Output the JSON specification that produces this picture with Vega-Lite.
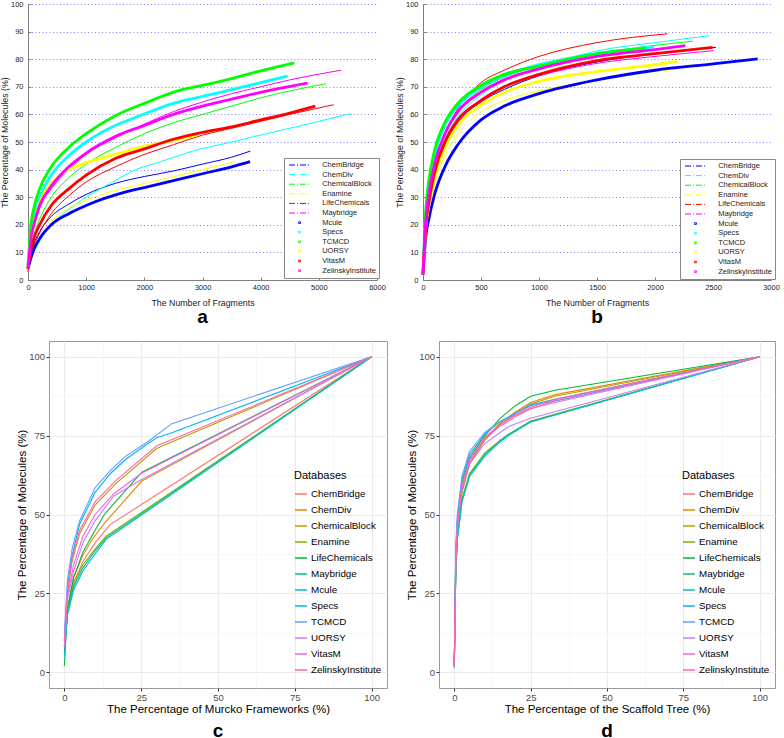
{
"$schema": "https://vega.github.io/schema/vega-lite/v6.json",
"padding": 0,
"background": "white",
"config": {"font": "Liberation Sans", "view": {"stroke": null}},
"datasets": {
"a": [
{"db":"ChemBridge","x":0,"y":4},{"db":"ChemBridge","x":50,"y":9},{"db":"ChemBridge","x":100,"y":13},{"db":"ChemBridge","x":200,"y":17.5},{"db":"ChemBridge","x":400,"y":23},{"db":"ChemBridge","x":700,"y":27.5},{"db":"ChemBridge","x":1000,"y":31},{"db":"ChemBridge","x":1500,"y":35},{"db":"ChemBridge","x":2000,"y":37.5},{"db":"ChemBridge","x":2500,"y":39.5},{"db":"ChemBridge","x":3000,"y":42},{"db":"ChemBridge","x":3500,"y":44.5},{"db":"ChemBridge","x":3822,"y":46.7},
{"db":"ChemDiv","x":0,"y":3},{"db":"ChemDiv","x":50,"y":7},{"db":"ChemDiv","x":100,"y":10},{"db":"ChemDiv","x":200,"y":14},{"db":"ChemDiv","x":400,"y":20},{"db":"ChemDiv","x":700,"y":25.5},{"db":"ChemDiv","x":1000,"y":30},{"db":"ChemDiv","x":1500,"y":36},{"db":"ChemDiv","x":1800,"y":39.5},{"db":"ChemDiv","x":2300,"y":43},{"db":"ChemDiv","x":2800,"y":46.5},{"db":"ChemDiv","x":3500,"y":50},{"db":"ChemDiv","x":4000,"y":52.5},{"db":"ChemDiv","x":4500,"y":55},{"db":"ChemDiv","x":5000,"y":57.5},{"db":"ChemDiv","x":5553,"y":60.3},
{"db":"ChemicalBlock","x":0,"y":3},{"db":"ChemicalBlock","x":50,"y":11},{"db":"ChemicalBlock","x":100,"y":16},{"db":"ChemicalBlock","x":200,"y":22},{"db":"ChemicalBlock","x":400,"y":30},{"db":"ChemicalBlock","x":700,"y":37},{"db":"ChemicalBlock","x":1000,"y":42},{"db":"ChemicalBlock","x":1500,"y":48},{"db":"ChemicalBlock","x":2000,"y":53},{"db":"ChemicalBlock","x":2500,"y":57},{"db":"ChemicalBlock","x":3000,"y":60},{"db":"ChemicalBlock","x":3500,"y":63},{"db":"ChemicalBlock","x":4000,"y":66},{"db":"ChemicalBlock","x":4500,"y":68.5},{"db":"ChemicalBlock","x":5123,"y":71.1},
{"db":"Enamine","x":0,"y":3},{"db":"Enamine","x":50,"y":8},{"db":"Enamine","x":100,"y":11},{"db":"Enamine","x":200,"y":15},{"db":"Enamine","x":400,"y":21},{"db":"Enamine","x":700,"y":26},{"db":"Enamine","x":1000,"y":29},{"db":"Enamine","x":1600,"y":33},{"db":"Enamine","x":2000,"y":35},{"db":"Enamine","x":2500,"y":37.5},{"db":"Enamine","x":3000,"y":40},{"db":"Enamine","x":3547,"y":42.9},
{"db":"LifeChemicals","x":0,"y":3},{"db":"LifeChemicals","x":50,"y":8},{"db":"LifeChemicals","x":100,"y":12},{"db":"LifeChemicals","x":200,"y":17},{"db":"LifeChemicals","x":400,"y":24},{"db":"LifeChemicals","x":700,"y":30.5},{"db":"LifeChemicals","x":1000,"y":35.5},{"db":"LifeChemicals","x":1500,"y":41},{"db":"LifeChemicals","x":2000,"y":45.5},{"db":"LifeChemicals","x":2500,"y":49},{"db":"LifeChemicals","x":3000,"y":52.5},{"db":"LifeChemicals","x":3500,"y":55},{"db":"LifeChemicals","x":4000,"y":57.5},{"db":"LifeChemicals","x":4500,"y":60},{"db":"LifeChemicals","x":5255,"y":63.5},
{"db":"Maybridge","x":0,"y":4},{"db":"Maybridge","x":50,"y":14},{"db":"Maybridge","x":100,"y":19},{"db":"Maybridge","x":200,"y":26},{"db":"Maybridge","x":400,"y":33},{"db":"Maybridge","x":700,"y":40},{"db":"Maybridge","x":1000,"y":45.5},{"db":"Maybridge","x":1500,"y":51.5},{"db":"Maybridge","x":2000,"y":56.5},{"db":"Maybridge","x":2500,"y":61},{"db":"Maybridge","x":3000,"y":64.5},{"db":"Maybridge","x":3500,"y":67.5},{"db":"Maybridge","x":4000,"y":70},{"db":"Maybridge","x":4500,"y":72.5},{"db":"Maybridge","x":5381,"y":76},
{"db":"Mcule","x":0,"y":4},{"db":"Mcule","x":50,"y":8},{"db":"Mcule","x":100,"y":11},{"db":"Mcule","x":200,"y":15},{"db":"Mcule","x":400,"y":20},{"db":"Mcule","x":700,"y":24},{"db":"Mcule","x":1000,"y":27},{"db":"Mcule","x":1700,"y":32},{"db":"Mcule","x":2000,"y":33.5},{"db":"Mcule","x":2500,"y":36},{"db":"Mcule","x":3000,"y":38.5},{"db":"Mcule","x":3500,"y":41},{"db":"Mcule","x":3817,"y":42.9},
{"db":"Specs","x":0,"y":4},{"db":"Specs","x":50,"y":18},{"db":"Specs","x":100,"y":23},{"db":"Specs","x":200,"y":30},{"db":"Specs","x":400,"y":38},{"db":"Specs","x":700,"y":45},{"db":"Specs","x":1000,"y":50},{"db":"Specs","x":1500,"y":56},{"db":"Specs","x":1800,"y":58.5},{"db":"Specs","x":2500,"y":64},{"db":"Specs","x":3000,"y":66.5},{"db":"Specs","x":3500,"y":69},{"db":"Specs","x":4000,"y":71.5},{"db":"Specs","x":4464,"y":73.9},
{"db":"TCMCD","x":0,"y":5},{"db":"TCMCD","x":50,"y":20},{"db":"TCMCD","x":100,"y":26},{"db":"TCMCD","x":200,"y":33},{"db":"TCMCD","x":400,"y":41},{"db":"TCMCD","x":700,"y":48},{"db":"TCMCD","x":1000,"y":53},{"db":"TCMCD","x":1500,"y":59.5},{"db":"TCMCD","x":2000,"y":64},{"db":"TCMCD","x":2600,"y":68.7},{"db":"TCMCD","x":3000,"y":70.5},{"db":"TCMCD","x":3500,"y":73},{"db":"TCMCD","x":4000,"y":75.8},{"db":"TCMCD","x":4579,"y":78.7},
{"db":"UORSY","x":0,"y":4},{"db":"UORSY","x":50,"y":15},{"db":"UORSY","x":100,"y":20},{"db":"UORSY","x":200,"y":28},{"db":"UORSY","x":400,"y":35},{"db":"UORSY","x":500,"y":37},{"db":"UORSY","x":700,"y":40},{"db":"UORSY","x":1000,"y":42.5},{"db":"UORSY","x":1500,"y":45.5},{"db":"UORSY","x":2000,"y":48.5},{"db":"UORSY","x":2500,"y":50.5},{"db":"UORSY","x":2900,"y":52.5},
{"db":"VitasM","x":0,"y":4},{"db":"VitasM","x":50,"y":11},{"db":"VitasM","x":100,"y":15},{"db":"VitasM","x":200,"y":20},{"db":"VitasM","x":400,"y":27},{"db":"VitasM","x":700,"y":33},{"db":"VitasM","x":1000,"y":38},{"db":"VitasM","x":1500,"y":44},{"db":"VitasM","x":2000,"y":47.5},{"db":"VitasM","x":2500,"y":51},{"db":"VitasM","x":3000,"y":53.5},{"db":"VitasM","x":3500,"y":55.5},{"db":"VitasM","x":4000,"y":58},{"db":"VitasM","x":4500,"y":60.5},{"db":"VitasM","x":4940,"y":63},
{"db":"ZelinskyInstitute","x":0,"y":4},{"db":"ZelinskyInstitute","x":50,"y":15},{"db":"ZelinskyInstitute","x":100,"y":20},{"db":"ZelinskyInstitute","x":200,"y":27},{"db":"ZelinskyInstitute","x":400,"y":34},{"db":"ZelinskyInstitute","x":700,"y":41},{"db":"ZelinskyInstitute","x":1000,"y":46},{"db":"ZelinskyInstitute","x":1500,"y":52},{"db":"ZelinskyInstitute","x":2000,"y":56},{"db":"ZelinskyInstitute","x":2500,"y":60},{"db":"ZelinskyInstitute","x":3000,"y":63},{"db":"ZelinskyInstitute","x":3500,"y":65.5},{"db":"ZelinskyInstitute","x":4000,"y":68},{"db":"ZelinskyInstitute","x":4808,"y":71.3}
],
"b": [
{"db":"ChemBridge","x":0,"y":2},{"db":"ChemBridge","x":25,"y":20},{"db":"ChemBridge","x":50,"y":28},{"db":"ChemBridge","x":100,"y":39},{"db":"ChemBridge","x":200,"y":50},{"db":"ChemBridge","x":300,"y":57},{"db":"ChemBridge","x":500,"y":64.5},{"db":"ChemBridge","x":700,"y":69},{"db":"ChemBridge","x":1000,"y":74},{"db":"ChemBridge","x":1500,"y":79},{"db":"ChemBridge","x":2000,"y":82},{"db":"ChemBridge","x":2526,"y":84.3},
{"db":"ChemDiv","x":0,"y":2},{"db":"ChemDiv","x":25,"y":20},{"db":"ChemDiv","x":50,"y":29},{"db":"ChemDiv","x":100,"y":40},{"db":"ChemDiv","x":200,"y":52},{"db":"ChemDiv","x":300,"y":59},{"db":"ChemDiv","x":500,"y":67},{"db":"ChemDiv","x":700,"y":72},{"db":"ChemDiv","x":1000,"y":77},{"db":"ChemDiv","x":1500,"y":83},{"db":"ChemDiv","x":2000,"y":86},{"db":"ChemDiv","x":2468,"y":88.5},
{"db":"ChemicalBlock","x":0,"y":2},{"db":"ChemicalBlock","x":25,"y":22},{"db":"ChemicalBlock","x":50,"y":31},{"db":"ChemicalBlock","x":100,"y":42},{"db":"ChemicalBlock","x":200,"y":54},{"db":"ChemicalBlock","x":300,"y":61},{"db":"ChemicalBlock","x":500,"y":69},{"db":"ChemicalBlock","x":700,"y":73.5},{"db":"ChemicalBlock","x":1000,"y":77.5},{"db":"ChemicalBlock","x":1500,"y":82},{"db":"ChemicalBlock","x":2000,"y":85},{"db":"ChemicalBlock","x":2325,"y":86.5},
{"db":"Enamine","x":0,"y":2},{"db":"Enamine","x":25,"y":18},{"db":"Enamine","x":50,"y":25},{"db":"Enamine","x":100,"y":35},{"db":"Enamine","x":200,"y":46},{"db":"Enamine","x":300,"y":53},{"db":"Enamine","x":500,"y":61},{"db":"Enamine","x":700,"y":65},{"db":"Enamine","x":1000,"y":68.5},{"db":"Enamine","x":1300,"y":71},{"db":"Enamine","x":1600,"y":73},{"db":"Enamine","x":2000,"y":75.5},{"db":"Enamine","x":2200,"y":76.5},
{"db":"LifeChemicals","x":0,"y":2},{"db":"LifeChemicals","x":25,"y":20},{"db":"LifeChemicals","x":50,"y":29},{"db":"LifeChemicals","x":100,"y":41},{"db":"LifeChemicals","x":200,"y":54},{"db":"LifeChemicals","x":300,"y":62},{"db":"LifeChemicals","x":500,"y":71.5},{"db":"LifeChemicals","x":700,"y":76},{"db":"LifeChemicals","x":1000,"y":81},{"db":"LifeChemicals","x":1500,"y":86},{"db":"LifeChemicals","x":2109,"y":89.2},
{"db":"Maybridge","x":0,"y":2},{"db":"Maybridge","x":25,"y":19},{"db":"Maybridge","x":50,"y":27},{"db":"Maybridge","x":100,"y":38},{"db":"Maybridge","x":200,"y":50},{"db":"Maybridge","x":300,"y":57},{"db":"Maybridge","x":500,"y":65.5},{"db":"Maybridge","x":700,"y":70},{"db":"Maybridge","x":1000,"y":74},{"db":"Maybridge","x":1500,"y":78.5},{"db":"Maybridge","x":2000,"y":81},{"db":"Maybridge","x":2506,"y":83.1},
{"db":"Mcule","x":0,"y":2},{"db":"Mcule","x":25,"y":16},{"db":"Mcule","x":50,"y":22},{"db":"Mcule","x":100,"y":31},{"db":"Mcule","x":200,"y":42},{"db":"Mcule","x":300,"y":49},{"db":"Mcule","x":500,"y":58},{"db":"Mcule","x":700,"y":63},{"db":"Mcule","x":1000,"y":67.5},{"db":"Mcule","x":1500,"y":72.5},{"db":"Mcule","x":2000,"y":76},{"db":"Mcule","x":2500,"y":78.3},{"db":"Mcule","x":2885,"y":80.1},
{"db":"Specs","x":0,"y":2},{"db":"Specs","x":25,"y":24},{"db":"Specs","x":50,"y":33},{"db":"Specs","x":100,"y":45},{"db":"Specs","x":200,"y":57},{"db":"Specs","x":300,"y":63},{"db":"Specs","x":500,"y":70},{"db":"Specs","x":700,"y":74},{"db":"Specs","x":1000,"y":78},{"db":"Specs","x":1500,"y":82},{"db":"Specs","x":1990,"y":84.5},
{"db":"TCMCD","x":0,"y":2},{"db":"TCMCD","x":25,"y":26},{"db":"TCMCD","x":50,"y":36},{"db":"TCMCD","x":100,"y":47},{"db":"TCMCD","x":200,"y":58},{"db":"TCMCD","x":300,"y":64},{"db":"TCMCD","x":500,"y":70.5},{"db":"TCMCD","x":700,"y":74.5},{"db":"TCMCD","x":1000,"y":77.5},{"db":"TCMCD","x":1500,"y":82},{"db":"TCMCD","x":1922,"y":84},
{"db":"UORSY","x":0,"y":2},{"db":"UORSY","x":25,"y":19},{"db":"UORSY","x":50,"y":27},{"db":"UORSY","x":100,"y":37},{"db":"UORSY","x":200,"y":49},{"db":"UORSY","x":300,"y":56},{"db":"UORSY","x":500,"y":63.5},{"db":"UORSY","x":700,"y":68},{"db":"UORSY","x":1000,"y":72},{"db":"UORSY","x":1500,"y":75.5},{"db":"UORSY","x":2000,"y":78},{"db":"UORSY","x":2195,"y":79.2},
{"db":"VitasM","x":0,"y":2},{"db":"VitasM","x":25,"y":20},{"db":"VitasM","x":50,"y":28},{"db":"VitasM","x":100,"y":39},{"db":"VitasM","x":200,"y":51},{"db":"VitasM","x":300,"y":58},{"db":"VitasM","x":500,"y":65},{"db":"VitasM","x":700,"y":70},{"db":"VitasM","x":1000,"y":74.5},{"db":"VitasM","x":1500,"y":79.5},{"db":"VitasM","x":2000,"y":82},{"db":"VitasM","x":2497,"y":84.3},
{"db":"ZelinskyInstitute","x":0,"y":2},{"db":"ZelinskyInstitute","x":25,"y":22},{"db":"ZelinskyInstitute","x":50,"y":31},{"db":"ZelinskyInstitute","x":100,"y":42},{"db":"ZelinskyInstitute","x":200,"y":54},{"db":"ZelinskyInstitute","x":300,"y":61},{"db":"ZelinskyInstitute","x":500,"y":68},{"db":"ZelinskyInstitute","x":700,"y":72.5},{"db":"ZelinskyInstitute","x":1000,"y":76.5},{"db":"ZelinskyInstitute","x":1500,"y":81},{"db":"ZelinskyInstitute","x":2000,"y":83.5},{"db":"ZelinskyInstitute","x":2261,"y":84.9}
],
"c": [
{"db":"ChemBridge","x":0,"y":8},{"db":"ChemBridge","x":1,"y":20},{"db":"ChemBridge","x":3,"y":28.5},{"db":"ChemBridge","x":6,"y":35},{"db":"ChemBridge","x":10,"y":41},{"db":"ChemBridge","x":14.9,"y":46.8},{"db":"ChemBridge","x":100,"y":100},
{"db":"ChemDiv","x":0,"y":8},{"db":"ChemDiv","x":1,"y":20},{"db":"ChemDiv","x":3,"y":30},{"db":"ChemDiv","x":6,"y":37},{"db":"ChemDiv","x":9,"y":42},{"db":"ChemDiv","x":13.2,"y":47.4},{"db":"ChemDiv","x":25.2,"y":60.6},{"db":"ChemDiv","x":100,"y":100},
{"db":"ChemicalBlock","x":0,"y":10},{"db":"ChemicalBlock","x":1,"y":25},{"db":"ChemicalBlock","x":2.5,"y":35},{"db":"ChemicalBlock","x":5,"y":44},{"db":"ChemicalBlock","x":10,"y":53},{"db":"ChemicalBlock","x":17,"y":60},{"db":"ChemicalBlock","x":30,"y":70.9},{"db":"ChemicalBlock","x":100,"y":100},
{"db":"Enamine","x":0,"y":6},{"db":"Enamine","x":1,"y":19},{"db":"Enamine","x":3,"y":28},{"db":"Enamine","x":6,"y":34},{"db":"Enamine","x":10,"y":39},{"db":"Enamine","x":13.6,"y":43.1},{"db":"Enamine","x":100,"y":100},
{"db":"LifeChemicals","x":0,"y":2},{"db":"LifeChemicals","x":1,"y":20},{"db":"LifeChemicals","x":3,"y":30},{"db":"LifeChemicals","x":6,"y":38},{"db":"LifeChemicals","x":10,"y":45},{"db":"LifeChemicals","x":13,"y":50},{"db":"LifeChemicals","x":25.2,"y":63.4},{"db":"LifeChemicals","x":100,"y":100},
{"db":"Maybridge","x":0,"y":6},{"db":"Maybridge","x":1,"y":19},{"db":"Maybridge","x":3,"y":27},{"db":"Maybridge","x":6,"y":33},{"db":"Maybridge","x":10,"y":38.5},{"db":"Maybridge","x":13.6,"y":42.6},{"db":"Maybridge","x":100,"y":100},
{"db":"Mcule","x":0,"y":5},{"db":"Mcule","x":1,"y":18},{"db":"Mcule","x":3,"y":26},{"db":"Mcule","x":6,"y":32},{"db":"Mcule","x":10,"y":37.5},{"db":"Mcule","x":13.6,"y":42.1},{"db":"Mcule","x":100,"y":100},
{"db":"Specs","x":0,"y":10},{"db":"Specs","x":1,"y":27},{"db":"Specs","x":2.5,"y":37},{"db":"Specs","x":5,"y":47},{"db":"Specs","x":10,"y":57},{"db":"Specs","x":15,"y":63},{"db":"Specs","x":20,"y":67.5},{"db":"Specs","x":25,"y":71},{"db":"Specs","x":30,"y":74.3},{"db":"Specs","x":35,"y":75.9},{"db":"Specs","x":100,"y":100},
{"db":"TCMCD","x":0,"y":12},{"db":"TCMCD","x":1,"y":29},{"db":"TCMCD","x":2.5,"y":39},{"db":"TCMCD","x":5,"y":48},{"db":"TCMCD","x":10,"y":58.5},{"db":"TCMCD","x":15,"y":64},{"db":"TCMCD","x":20,"y":68.5},{"db":"TCMCD","x":27,"y":73},{"db":"TCMCD","x":35,"y":78.8},{"db":"TCMCD","x":100,"y":100},
{"db":"UORSY","x":0,"y":8},{"db":"UORSY","x":1,"y":23},{"db":"UORSY","x":3,"y":32},{"db":"UORSY","x":6,"y":41},{"db":"UORSY","x":10,"y":48},{"db":"UORSY","x":16,"y":55.8},{"db":"UORSY","x":25,"y":61},{"db":"UORSY","x":100,"y":100},
{"db":"VitasM","x":0,"y":9},{"db":"VitasM","x":1,"y":24},{"db":"VitasM","x":3,"y":34},{"db":"VitasM","x":6,"y":43},{"db":"VitasM","x":10,"y":50},{"db":"VitasM","x":16,"y":56.5},{"db":"VitasM","x":25,"y":63},{"db":"VitasM","x":100,"y":100},
{"db":"ZelinskyInstitute","x":0,"y":10},{"db":"ZelinskyInstitute","x":1,"y":26},{"db":"ZelinskyInstitute","x":2.5,"y":36},{"db":"ZelinskyInstitute","x":5,"y":45},{"db":"ZelinskyInstitute","x":10,"y":54},{"db":"ZelinskyInstitute","x":17,"y":61},{"db":"ZelinskyInstitute","x":30,"y":71.7},{"db":"ZelinskyInstitute","x":100,"y":100}
],
"d": [
{"db":"ChemBridge","x":0,"y":2},{"db":"ChemBridge","x":0.5,"y":35},{"db":"ChemBridge","x":1,"y":45},{"db":"ChemBridge","x":2.5,"y":58},{"db":"ChemBridge","x":5,"y":67},{"db":"ChemBridge","x":10,"y":74},{"db":"ChemBridge","x":15,"y":78.5},{"db":"ChemBridge","x":20,"y":81.5},{"db":"ChemBridge","x":25,"y":83.5},{"db":"ChemBridge","x":33,"y":86},{"db":"ChemBridge","x":100,"y":100},
{"db":"ChemDiv","x":0,"y":2},{"db":"ChemDiv","x":0.5,"y":33},{"db":"ChemDiv","x":1,"y":44},{"db":"ChemDiv","x":2.5,"y":57},{"db":"ChemDiv","x":5,"y":66},{"db":"ChemDiv","x":10,"y":74},{"db":"ChemDiv","x":15,"y":79},{"db":"ChemDiv","x":20,"y":82.5},{"db":"ChemDiv","x":25,"y":85.5},{"db":"ChemDiv","x":33,"y":88},{"db":"ChemDiv","x":100,"y":100},
{"db":"ChemicalBlock","x":0,"y":2},{"db":"ChemicalBlock","x":0.5,"y":34},{"db":"ChemicalBlock","x":1,"y":45},{"db":"ChemicalBlock","x":2.5,"y":57},{"db":"ChemicalBlock","x":5,"y":66},{"db":"ChemicalBlock","x":10,"y":73.5},{"db":"ChemicalBlock","x":15,"y":78.5},{"db":"ChemicalBlock","x":20,"y":82},{"db":"ChemicalBlock","x":25,"y":85},{"db":"ChemicalBlock","x":33,"y":87.5},{"db":"ChemicalBlock","x":100,"y":100},
{"db":"Enamine","x":0,"y":2},{"db":"Enamine","x":0.5,"y":33},{"db":"Enamine","x":1,"y":43},{"db":"Enamine","x":2.5,"y":55},{"db":"Enamine","x":5,"y":63},{"db":"Enamine","x":10,"y":69.5},{"db":"Enamine","x":15,"y":73.5},{"db":"Enamine","x":18,"y":75.5},{"db":"Enamine","x":25,"y":79.6},{"db":"Enamine","x":100,"y":100},
{"db":"LifeChemicals","x":0,"y":2},{"db":"LifeChemicals","x":0.5,"y":38},{"db":"LifeChemicals","x":1,"y":48},{"db":"LifeChemicals","x":2.5,"y":60},{"db":"LifeChemicals","x":5,"y":68},{"db":"LifeChemicals","x":10,"y":75},{"db":"LifeChemicals","x":15,"y":80.5},{"db":"LifeChemicals","x":20,"y":84.5},{"db":"LifeChemicals","x":25,"y":87.5},{"db":"LifeChemicals","x":33,"y":89.4},{"db":"LifeChemicals","x":100,"y":100},
{"db":"Maybridge","x":0,"y":1.5},{"db":"Maybridge","x":0.5,"y":32},{"db":"Maybridge","x":1,"y":42},{"db":"Maybridge","x":2.5,"y":54},{"db":"Maybridge","x":5,"y":62.5},{"db":"Maybridge","x":10,"y":69},{"db":"Maybridge","x":15,"y":73.5},{"db":"Maybridge","x":18,"y":75.5},{"db":"Maybridge","x":25,"y":79.4},{"db":"Maybridge","x":100,"y":100},
{"db":"Mcule","x":0,"y":1.5},{"db":"Mcule","x":0.5,"y":32},{"db":"Mcule","x":1,"y":42},{"db":"Mcule","x":2.5,"y":54},{"db":"Mcule","x":5,"y":62},{"db":"Mcule","x":10,"y":68.5},{"db":"Mcule","x":15,"y":73},{"db":"Mcule","x":18,"y":75.2},{"db":"Mcule","x":25,"y":79.3},{"db":"Mcule","x":100,"y":100},
{"db":"Specs","x":0,"y":2},{"db":"Specs","x":0.5,"y":38},{"db":"Specs","x":1,"y":48},{"db":"Specs","x":2.5,"y":61},{"db":"Specs","x":5,"y":69},{"db":"Specs","x":10,"y":75.5},{"db":"Specs","x":15,"y":79.5},{"db":"Specs","x":20,"y":82},{"db":"Specs","x":25,"y":84.8},{"db":"Specs","x":33,"y":86.5},{"db":"Specs","x":100,"y":100},
{"db":"TCMCD","x":0,"y":2},{"db":"TCMCD","x":0.5,"y":40},{"db":"TCMCD","x":1,"y":50},{"db":"TCMCD","x":2.5,"y":62},{"db":"TCMCD","x":5,"y":70},{"db":"TCMCD","x":10,"y":76},{"db":"TCMCD","x":15,"y":79.5},{"db":"TCMCD","x":20,"y":82},{"db":"TCMCD","x":25,"y":84.5},{"db":"TCMCD","x":33,"y":86},{"db":"TCMCD","x":100,"y":100},
{"db":"UORSY","x":0,"y":2},{"db":"UORSY","x":0.5,"y":36},{"db":"UORSY","x":1,"y":46},{"db":"UORSY","x":2.5,"y":58},{"db":"UORSY","x":5,"y":66},{"db":"UORSY","x":10,"y":72.5},{"db":"UORSY","x":15,"y":76},{"db":"UORSY","x":18,"y":78},{"db":"UORSY","x":25,"y":80.5},{"db":"UORSY","x":100,"y":100},
{"db":"VitasM","x":0,"y":2},{"db":"VitasM","x":0.5,"y":36},{"db":"VitasM","x":1,"y":46},{"db":"VitasM","x":2.5,"y":58},{"db":"VitasM","x":5,"y":67},{"db":"VitasM","x":10,"y":74},{"db":"VitasM","x":15,"y":78},{"db":"VitasM","x":20,"y":81},{"db":"VitasM","x":25,"y":83.5},{"db":"VitasM","x":33,"y":85.5},{"db":"VitasM","x":100,"y":100},
{"db":"ZelinskyInstitute","x":0,"y":2},{"db":"ZelinskyInstitute","x":0.5,"y":36},{"db":"ZelinskyInstitute","x":1,"y":46},{"db":"ZelinskyInstitute","x":2.5,"y":59},{"db":"ZelinskyInstitute","x":5,"y":67.5},{"db":"ZelinskyInstitute","x":10,"y":74.5},{"db":"ZelinskyInstitute","x":15,"y":78.5},{"db":"ZelinskyInstitute","x":20,"y":81.5},{"db":"ZelinskyInstitute","x":25,"y":84},{"db":"ZelinskyInstitute","x":33,"y":86.5},{"db":"ZelinskyInstitute","x":100,"y":100}
]
},
"resolve": {"scale": {"color": "independent"}, "legend": {"color": "independent"}},
"spacing": 12,
"vconcat": [
{
"hconcat": [
{
"width": 349, "height": 276,
"data": {"name": "a"},
"title": {"text": "a", "orient": "bottom", "fontSize": 19, "fontWeight": "bold", "color": "#000", "offset": 1},
"mark": {"type": "line", "interpolate": "monotone"},
"encoding": {
"x": {"field": "x", "type": "quantitative", "scale": {"domain": [0, 6000], "nice": false},
 "axis": {"title": "The Number of Fragments", "values": [0,1000,2000,3000,4000,5000,6000], "format": "d", "grid": false, "domainColor": "#808080", "tickColor": "#808080", "tickSize": -3, "labelPadding": 6, "labelFontSize": 7.5, "labelColor": "#222", "labelFlush": false, "titleFontSize": 8.8, "titleFontWeight": "normal", "titleColor": "#222", "titlePadding": 8}},
"y": {"field": "y", "type": "quantitative", "scale": {"domain": [0, 100], "nice": false},
 "axis": {"title": "The Percentage of Molecules (%)", "values": [0,10,20,30,40,50,60,70,80,90,100], "grid": true, "gridColor": "#8080ff", "gridDash": [1, 2.5], "gridOpacity": 1, "domainColor": "#808080", "tickColor": "#808080", "tickSize": -3, "labelPadding": 8, "labelFontSize": 7.5, "labelColor": "#222", "labelFlush": false, "titleFontSize": 8.8, "titleFontWeight": "normal", "titleColor": "#222", "titlePadding": 1}},
"color": {"field": "db", "type": "nominal",
 "scale": {"domain": ["ChemBridge","ChemDiv","ChemicalBlock","Enamine","LifeChemicals","Maybridge","Mcule","Specs","TCMCD","UORSY","VitasM","ZelinskyInstitute"], "range": ["#0000ff","#00ffff","#00ff00","#ffff00","#ff0000","#ff00ff","#0000ff","#00ffff","#00ff00","#ffff00","#ff0000","#ff00ff"]},
 "legend": {"orient": "none", "legendX": 256, "legendY": 154, "title": null, "labelFontSize": 7.5, "labelColor": "#222", "strokeColor": "#888", "fillColor": "white", "padding": 3, "rowPadding": 1.6, "symbolType": "stroke", "symbolSize": 49, "symbolStrokeWidth": 1, "symbolOffset": 8.5, "labelOffset": 18.7, "labelLimit": 200,
  "encode": {"symbols": {"update": {
   "shape": {"signal": "indexof(['Mcule','Specs','TCMCD','UORSY','VitasM','ZelinskyInstitute'], datum.value) >= 0 ? 'M-0.25,-0.25H0.25V0.25H-0.25Z' : 'M-3,0H3'"},
   "strokeDash": {"signal": "indexof(['Mcule','Specs','TCMCD','UORSY','VitasM','ZelinskyInstitute'], datum.value) >= 0 ? [1,0] : [6,2,1,2]"}
  }}}}},
"strokeWidth": {"condition": {"test": "indexof(['Mcule','Specs','TCMCD','UORSY','VitasM','ZelinskyInstitute'], datum.db) >= 0", "value": 2.8}, "value": 1}
}
},
{
"width": 348, "height": 276,
"data": {"name": "b"},
"title": {"text": "b", "orient": "bottom", "fontSize": 19, "fontWeight": "bold", "color": "#000", "offset": 1},
"mark": {"type": "line", "interpolate": "monotone"},
"encoding": {
"x": {"field": "x", "type": "quantitative", "scale": {"domain": [0, 3000], "nice": false},
 "axis": {"title": "The Number of Fragments", "values": [0,500,1000,1500,2000,2500,3000], "format": "d", "grid": false, "domainColor": "#808080", "tickColor": "#808080", "tickSize": -3, "labelPadding": 6, "labelFontSize": 7.5, "labelColor": "#222", "labelFlush": false, "titleFontSize": 8.8, "titleFontWeight": "normal", "titleColor": "#222", "titlePadding": 8}},
"y": {"field": "y", "type": "quantitative", "scale": {"domain": [0, 100], "nice": false},
 "axis": {"title": "The Percentage of Molecules (%)", "values": [0,10,20,30,40,50,60,70,80,90,100], "grid": true, "gridColor": "#8080ff", "gridDash": [1, 2.5], "gridOpacity": 1, "domainColor": "#808080", "tickColor": "#808080", "tickSize": -3, "labelPadding": 8, "labelFontSize": 7.5, "labelColor": "#222", "labelFlush": false, "titleFontSize": 8.8, "titleFontWeight": "normal", "titleColor": "#222", "titlePadding": 1}},
"color": {"field": "db", "type": "nominal",
 "scale": {"domain": ["ChemBridge","ChemDiv","ChemicalBlock","Enamine","LifeChemicals","Maybridge","Mcule","Specs","TCMCD","UORSY","VitasM","ZelinskyInstitute"], "range": ["#0000ff","#00ffff","#00ff00","#ffff00","#ff0000","#ff00ff","#0000ff","#00ffff","#00ff00","#ffff00","#ff0000","#ff00ff"]},
 "legend": {"orient": "none", "legendX": 257, "legendY": 155, "title": null, "labelFontSize": 7.5, "labelColor": "#222", "strokeColor": "#888", "fillColor": "white", "padding": 3, "rowPadding": 1.6, "symbolType": "stroke", "symbolSize": 49, "symbolStrokeWidth": 1, "symbolOffset": 8.5, "labelOffset": 18.7, "labelLimit": 200,
  "encode": {"symbols": {"update": {
   "shape": {"signal": "indexof(['Mcule','Specs','TCMCD','UORSY','VitasM','ZelinskyInstitute'], datum.value) >= 0 ? 'M-0.25,-0.25H0.25V0.25H-0.25Z' : 'M-3,0H3'"},
   "strokeDash": {"signal": "indexof(['Mcule','Specs','TCMCD','UORSY','VitasM','ZelinskyInstitute'], datum.value) >= 0 ? [1,0] : [6,2,1,2]"}
  }}}}},
"strokeWidth": {"condition": {"test": "indexof(['Mcule','Specs','TCMCD','UORSY','VitasM','ZelinskyInstitute'], datum.db) >= 0", "value": 2.8}, "value": 1}
}
}
],
"spacing": 9,
"resolve": {"scale": {"color": "independent"}, "legend": {"color": "independent"}}
},
{
"hconcat": [
{"width": 1, "height": 347, "data": {"values": []}, "mark": {"type": "point", "opacity": 0}},
{
"hconcat": [
{
"width": 338, "height": 347,
"view": {"stroke": "#9a9a9a", "strokeWidth": 1},
"data": {"name": "c"},
"title": {"text": "c", "orient": "bottom", "fontSize": 19, "fontWeight": "bold", "color": "#000", "offset": 6.5},
"mark": {"type": "line", "strokeWidth": 1.1},
"encoding": {
"x": {"field": "x", "type": "quantitative", "scale": {"domain": [-5, 105], "nice": false, "zero": false},
 "axis": {"title": "The Percentage of Murcko Frameworks (%)", "values": [0,12.5,25,37.5,50,62.5,75,87.5,100], "labelExpr": "datum.value % 25 === 0 ? datum.label : ''", "domain": false, "grid": true,
  "gridColor": {"condition": {"test": "datum.value % 25 !== 0", "value": "#f4f4f4"}, "value": "#ebebeb"},
  "gridWidth": {"condition": {"test": "datum.value % 25 !== 0", "value": 0.6}, "value": 1.1},
  "tickColor": {"condition": {"test": "datum.value % 25 !== 0", "value": "transparent"}, "value": "#333"},
  "tickSize": 3, "labelPadding": 1, "labelFontSize": 9.5, "labelColor": "#4d4d4d", "labelFlush": false, "titleFontSize": 11.5, "titleFontWeight": "normal", "titleColor": "#000", "titlePadding": 2}},
"y": {"field": "y", "type": "quantitative", "scale": {"domain": [-5, 105], "nice": false, "zero": false},
 "axis": {"title": "The Percentage of Molecules (%)", "values": [0,12.5,25,37.5,50,62.5,75,87.5,100], "labelExpr": "datum.value % 25 === 0 ? datum.label : ''", "domain": false, "grid": true,
  "gridColor": {"condition": {"test": "datum.value % 25 !== 0", "value": "#f4f4f4"}, "value": "#ebebeb"},
  "gridWidth": {"condition": {"test": "datum.value % 25 !== 0", "value": 0.6}, "value": 1.1},
  "tickColor": {"condition": {"test": "datum.value % 25 !== 0", "value": "transparent"}, "value": "#333"},
  "tickSize": 3, "labelPadding": 1.5, "labelFontSize": 9.5, "labelColor": "#4d4d4d", "labelFlush": false, "titleFontSize": 11.5, "titleFontWeight": "normal", "titleColor": "#000", "titlePadding": 1}},
"color": {"field": "db", "type": "nominal",
 "scale": {"domain": ["ChemBridge","ChemDiv","ChemicalBlock","Enamine","LifeChemicals","Maybridge","Mcule","Specs","TCMCD","UORSY","VitasM","ZelinskyInstitute"], "range": ["#F8766D","#DE8C00","#B79F00","#7CAE00","#00BA38","#00C08B","#00BFC4","#00B4F0","#619CFF","#C77CFF","#F564E3","#FF64B0"]},
 "legend": {"orient": "none", "legendX": 245, "legendY": 129, "title": "Databases", "titleFontSize": 11, "titleFontWeight": "normal", "titleColor": "#000", "titlePadding": 6, "labelFontSize": 9.8, "labelColor": "#000", "padding": 0, "rowPadding": 4, "symbolType": "stroke", "symbolSize": 144, "symbolStrokeWidth": 1.5, "labelOffset": 3, "labelLimit": 200}}
}
},
{
"width": 336, "height": 347,
"view": {"stroke": "#9a9a9a", "strokeWidth": 1},
"data": {"name": "d"},
"title": {"text": "d", "orient": "bottom", "fontSize": 19, "fontWeight": "bold", "color": "#000", "offset": 6.5},
"mark": {"type": "line", "strokeWidth": 1.1},
"encoding": {
"x": {"field": "x", "type": "quantitative", "scale": {"domain": [-5, 105], "nice": false, "zero": false},
 "axis": {"title": "The Percentage of the Scaffold Tree (%)", "values": [0,12.5,25,37.5,50,62.5,75,87.5,100], "labelExpr": "datum.value % 25 === 0 ? datum.label : ''", "domain": false, "grid": true,
  "gridColor": {"condition": {"test": "datum.value % 25 !== 0", "value": "#f4f4f4"}, "value": "#ebebeb"},
  "gridWidth": {"condition": {"test": "datum.value % 25 !== 0", "value": 0.6}, "value": 1.1},
  "tickColor": {"condition": {"test": "datum.value % 25 !== 0", "value": "transparent"}, "value": "#333"},
  "tickSize": 3, "labelPadding": 1, "labelFontSize": 9.5, "labelColor": "#4d4d4d", "labelFlush": false, "titleFontSize": 11.5, "titleFontWeight": "normal", "titleColor": "#000", "titlePadding": 2}},
"y": {"field": "y", "type": "quantitative", "scale": {"domain": [-5, 105], "nice": false, "zero": false},
 "axis": {"title": "The Percentage of Molecules (%)", "values": [0,12.5,25,37.5,50,62.5,75,87.5,100], "labelExpr": "datum.value % 25 === 0 ? datum.label : ''", "domain": false, "grid": true,
  "gridColor": {"condition": {"test": "datum.value % 25 !== 0", "value": "#f4f4f4"}, "value": "#ebebeb"},
  "gridWidth": {"condition": {"test": "datum.value % 25 !== 0", "value": 0.6}, "value": 1.1},
  "tickColor": {"condition": {"test": "datum.value % 25 !== 0", "value": "transparent"}, "value": "#333"},
  "tickSize": 3, "labelPadding": 1.5, "labelFontSize": 9.5, "labelColor": "#4d4d4d", "labelFlush": false, "titleFontSize": 11.5, "titleFontWeight": "normal", "titleColor": "#000", "titlePadding": 1}},
"color": {"field": "db", "type": "nominal",
 "scale": {"domain": ["ChemBridge","ChemDiv","ChemicalBlock","Enamine","LifeChemicals","Maybridge","Mcule","Specs","TCMCD","UORSY","VitasM","ZelinskyInstitute"], "range": ["#F8766D","#DE8C00","#B79F00","#7CAE00","#00BA38","#00C08B","#00BFC4","#00B4F0","#619CFF","#C77CFF","#F564E3","#FF64B0"]},
 "legend": {"orient": "none", "legendX": 243, "legendY": 129, "title": "Databases", "titleFontSize": 11, "titleFontWeight": "normal", "titleColor": "#000", "titlePadding": 6, "labelFontSize": 9.8, "labelColor": "#000", "padding": 0, "rowPadding": 4, "symbolType": "stroke", "symbolSize": 144, "symbolStrokeWidth": 1.5, "labelOffset": 3, "labelLimit": 200}}
}
}
],
"spacing": 18,
"resolve": {"scale": {"color": "independent"}, "legend": {"color": "independent"}}
}
],
"spacing": -13,
"resolve": {"scale": {"color": "independent"}, "legend": {"color": "independent"}}
}
]
}
